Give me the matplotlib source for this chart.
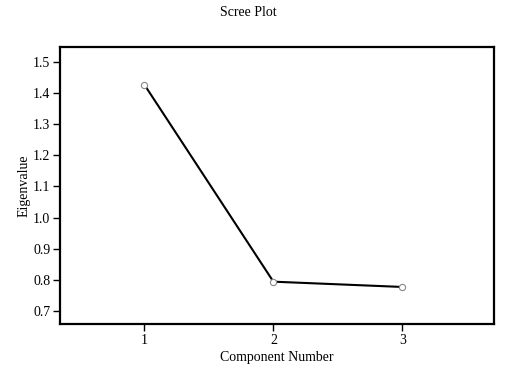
import matplotlib
matplotlib.use("Agg")
import matplotlib.pyplot as plt

components = [1, 2, 3]
eigenvalues = [1.427, 0.794, 0.777]
y_ticks = [0.7, 0.8, 0.9, 1.0, 1.1, 1.2, 1.3, 1.4, 1.5]

plt.rcParams['font.family'] = ['Liberation Serif', 'DejaVu Serif']
plt.rcParams['font.size'] = 10

fig = plt.figure(figsize=(5.29, 3.73), dpi=100)
ax = fig.add_axes([60 / 529, 1 - 324 / 373, 434 / 529, 277 / 373])

ax.plot(components, eigenvalues, color='black', linewidth=1.5,
        marker='o', markersize=4.5, markerfacecolor='white',
        markeredgecolor='#888888', markeredgewidth=0.8)

ax.set_xlim(0.346, 3.71)
ax.set_ylim(0.658, 1.548)
ax.set_xticks(components)
ax.set_yticks(y_ticks)
ax.set_yticklabels([f"{v:.1f}" for v in y_ticks])
for s in ax.spines.values():
    s.set_linewidth(1.6)
ax.tick_params(direction='out', length=5, width=1, pad=2)

ax.set_xlabel('Component Number', labelpad=3)
ax.set_ylabel('Eigenvalue', labelpad=2)
fig.text(248.5 / 529, 1 - 13 / 373, 'Scree Plot', ha='center', va='center')

fig.savefig('out.png', dpi=100)
